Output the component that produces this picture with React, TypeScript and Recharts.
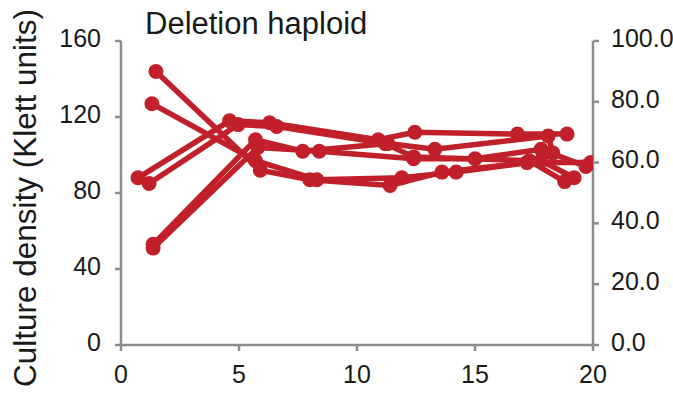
import { LineChart, Line, XAxis, YAxis } from "recharts";

// time (x) and culture density (Klett units) for each culture
const cultureA = [
  { x: 1.48, y: 144 },
  { x: 5.9, y: 92 },
  { x: 8.0, y: 87 },
  { x: 11.4, y: 84 },
  { x: 13.6, y: 91 },
  { x: 17.2, y: 96 },
  { x: 19.9, y: 96 },
];
const cultureB = [
  { x: 1.31, y: 127 },
  { x: 5.7, y: 97 },
  { x: 8.3, y: 87 },
  { x: 11.9, y: 88 },
  { x: 14.2, y: 91 },
  { x: 17.8, y: 97 },
  { x: 19.2, y: 88 },
];
const cultureC = [
  { x: 0.72, y: 88 },
  { x: 4.6, y: 118 },
  { x: 6.3, y: 117 },
  { x: 10.9, y: 108 },
  { x: 12.45, y: 112 },
  { x: 16.8, y: 111 },
  { x: 18.9, y: 111 },
];
const cultureD = [
  { x: 1.19, y: 85 },
  { x: 4.96, y: 116 },
  { x: 6.6, y: 115 },
  { x: 11.2, y: 106 },
  { x: 12.4, y: 99 },
  { x: 17.3, y: 97 },
  { x: 18.8, y: 86 },
];
const cultureE = [
  { x: 1.36, y: 53 },
  { x: 5.7, y: 108 },
  { x: 7.7, y: 102 },
  { x: 11.3, y: 106 },
  { x: 13.3, y: 103 },
  { x: 18.1, y: 110 },
  { x: 18.3, y: 101 },
];
const cultureF = [
  { x: 1.36, y: 51 },
  { x: 5.8, y: 104 },
  { x: 8.4, y: 102 },
  { x: 12.4, y: 98 },
  { x: 15.0, y: 98 },
  { x: 17.8, y: 103 },
  { x: 19.7, y: 94 },
];

const cultures = [cultureA, cultureB, cultureC, cultureD, cultureE, cultureF];

const xTicks = [0, 5, 10, 15, 20];
const leftTicks = [0, 40, 80, 120, 160];
const rightTicks = [0, 20, 40, 60, 80, 100];

const RED = "#c1202b";
const AXIS = "#8c8c8c";
const FONT = "'Liberation Sans', Arial, sans-serif";

const tickStyle = { fontSize: 25, fill: "#1a1a1a", fontFamily: FONT };
const yTickStyle = { ...tickStyle, dy: -3 };

const YLabel = () => (
  <text
    x={36}
    y={198}
    transform="rotate(-90, 36, 198)"
    textAnchor="middle"
    style={{ fontSize: 31.5, fill: "#1a1a1a", fontFamily: FONT }}
  >
    Culture density (Klett units)
  </text>
);

const App = () => {
  return (
    <div style={{ position: "absolute", left: 0, top: 0, width: 673, height: 399, background: "#fff" }}>
      <LineChart
        width={673}
        height={399}
        margin={{ top: 41, right: 10, bottom: 14, left: 21 }}
      >
        <XAxis
          type="number"
          dataKey="x"
          domain={[0, 20]}
          ticks={xTicks}
          allowDataOverflow
          height={40}
          tickSize={6}
          tickMargin={14}
          stroke={AXIS}
          strokeWidth={2.5}
          tick={tickStyle}
        />
        <YAxis
          yAxisId="left"
          type="number"
          domain={[0, 160]}
          ticks={leftTicks}
          width={100}
          tickSize={6}
          tickMargin={14}
          stroke={AXIS}
          strokeWidth={2.5}
          tick={yTickStyle}
          label={<YLabel />}
        />
        <YAxis
          yAxisId="right"
          orientation="right"
          type="number"
          domain={[0, 100]}
          allowDataOverflow
          ticks={rightTicks}
          tickFormatter={(v: number) => v.toFixed(1)}
          width={70}
          tickSize={6}
          tickMargin={12}
          stroke={AXIS}
          strokeWidth={2.5}
          tick={yTickStyle}
        />
        {/* keeps the secondary axis registered; draws nothing */}
        <Line
          yAxisId="right"
          data={cultureA}
          dataKey="y"
          stroke="none"
          dot={false}
          activeDot={false}
          legendType="none"
          isAnimationActive={false}
        />
        {cultures.map((d, i) => (
          <Line
            key={i}
            yAxisId="left"
            data={d}
            dataKey="y"
            type="linear"
            stroke={RED}
            strokeWidth={5.5}
            dot={{ r: 7.5, fill: RED, stroke: RED, strokeWidth: 0 }}
            activeDot={false}
            isAnimationActive={false}
          />
        ))}
      </LineChart>
      <div
        style={{
          position: "absolute",
          left: 145,
          top: 6,
          fontSize: 31,
          fontFamily: FONT,
          color: "#1a1a1a",
          pointerEvents: "none",
        }}
      >
        Deletion haploid
      </div>
    </div>
  );
};

export default App;
